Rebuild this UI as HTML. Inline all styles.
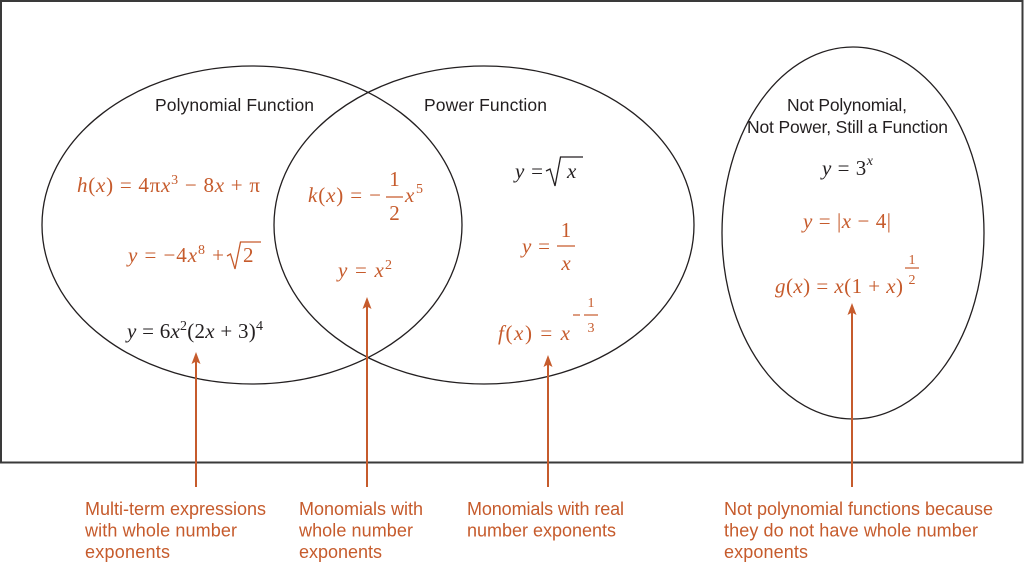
<!DOCTYPE html>
<html><head><meta charset="utf-8">
<style>
body{margin:0;background:#fff}
svg{display:block}
.m{font-family:"Liberation Serif",serif;font-size:21px}
.i{font-style:italic}
.o{fill:#c65b2c}
.k{fill:#231f20}
.h{font-family:"Liberation Sans",sans-serif;font-size:17.5px;fill:#231f20}
.l{font-family:"Liberation Sans",sans-serif;font-size:18px;fill:#c65b2c}
.s{font-size:14px}
</style></head>
<body>
<svg width="1024" height="586" viewBox="0 0 1024 586" xmlns="http://www.w3.org/2000/svg">
<rect x="0" y="0" width="1024" height="586" fill="#fff"/>
<rect x="1" y="1" width="1021.5" height="461.5" fill="none" stroke="#3a3a3a" stroke-width="2"/>

<!-- ellipses -->
<g fill="none" stroke="#231f20" stroke-width="1.3">
<ellipse cx="252" cy="225" rx="210" ry="159"/>
<ellipse cx="484" cy="225" rx="210" ry="159"/>
<ellipse cx="853" cy="233" rx="131" ry="186"/>
</g>

<!-- headers -->
<text class="h" x="155" y="111" textLength="159" lengthAdjust="spacing">Polynomial Function</text>
<text class="h" x="424" y="111" textLength="123" lengthAdjust="spacing">Power Function</text>
<text class="h" x="787" y="111" textLength="120" lengthAdjust="spacing">Not Polynomial,</text>
<text class="h" x="747" y="133" textLength="201" lengthAdjust="spacing">Not Power, Still a Function</text>

<!-- Formula 1 -->
<text class="m o" x="77" y="192" textLength="183" lengthAdjust="spacing"><tspan class="i">h</tspan>(<tspan class="i">x</tspan>) = 4π<tspan class="i">x</tspan><tspan class="s" dy="-8">3</tspan><tspan dy="8"> − 8</tspan><tspan class="i">x</tspan> + π</text>

<!-- Formula 2 -->
<text class="m o" x="128" y="262" textLength="96" lengthAdjust="spacing"><tspan class="i">y</tspan> = −4<tspan class="i">x</tspan><tspan class="s" dy="-8">8</tspan><tspan dy="8"> +</tspan></text>
<path d="M227,256 L230.5,254 L235,269 L240.5,242 L261,242" fill="none" stroke="#c65b2c" stroke-width="1.3"/>
<text class="m o" x="243" y="262">2</text>

<!-- Formula 3 -->
<text class="m k" x="127" y="338" textLength="136" lengthAdjust="spacing"><tspan class="i">y</tspan> = 6<tspan class="i">x</tspan><tspan class="s" dy="-8">2</tspan><tspan dy="8">(2</tspan><tspan class="i">x</tspan> + 3)<tspan class="s" dy="-8">4</tspan></text>

<!-- Formula 4 -->
<text class="m o" x="308" y="202" textLength="73" lengthAdjust="spacing"><tspan class="i">k</tspan>(<tspan class="i">x</tspan>) = −</text>
<line x1="386" y1="197" x2="403" y2="197" stroke="#c65b2c" stroke-width="1.2"/>
<text class="m o" x="394.5" y="186" text-anchor="middle" font-size="19">1</text>
<text class="m o" x="394.5" y="220" text-anchor="middle" font-size="19">2</text>
<text class="m o i" x="405" y="202">x</text>
<text class="m o s" x="416" y="193">5</text>

<!-- Formula 5 -->
<text class="m o" x="338" y="277" textLength="54" lengthAdjust="spacing"><tspan class="i">y</tspan> = <tspan class="i">x</tspan><tspan class="s" dy="-8">2</tspan></text>

<!-- Formula 6 -->
<text class="m k" x="515" y="178" textLength="28" lengthAdjust="spacing"><tspan class="i">y</tspan> =</text>
<path d="M546,171 L550,169 L555,186 L560.5,157 L583,157" fill="none" stroke="#231f20" stroke-width="1.3"/>
<text class="m k i" x="567" y="178">x</text>

<!-- Formula 7 -->
<text class="m o" x="522" y="253" textLength="28" lengthAdjust="spacing"><tspan class="i">y</tspan> =</text>
<line x1="557" y1="246" x2="575" y2="246" stroke="#c65b2c" stroke-width="1.2"/>
<text class="m o" x="566" y="237" text-anchor="middle" font-size="19">1</text>
<text class="m o i" x="566" y="270" text-anchor="middle">x</text>

<!-- Formula 8 -->
<text class="m o" x="498" y="340" textLength="72" lengthAdjust="spacing"><tspan class="i">f</tspan>(<tspan class="i">x</tspan>) = <tspan class="i">x</tspan></text>
<line x1="573" y1="315" x2="580" y2="315" stroke="#c65b2c" stroke-width="1.2"/>
<line x1="584" y1="315" x2="598" y2="315" stroke="#c65b2c" stroke-width="1.2"/>
<text class="m o s" x="591" y="307" text-anchor="middle">1</text>
<text class="m o s" x="591" y="332" text-anchor="middle">3</text>

<!-- Formula 9 -->
<text class="m k" x="822" y="175" textLength="51" lengthAdjust="spacing"><tspan class="i">y</tspan> = 3<tspan class="s i" dy="-10">x</tspan></text>

<!-- Formula 10 -->
<text class="m o" x="803" y="228" textLength="88" lengthAdjust="spacing"><tspan class="i">y</tspan> = |<tspan class="i">x</tspan> − 4|</text>

<!-- Formula 11 -->
<text class="m o" x="775" y="293" textLength="128" lengthAdjust="spacing"><tspan class="i">g</tspan>(<tspan class="i">x</tspan>) = <tspan class="i">x</tspan>(1 + <tspan class="i">x</tspan>)</text>
<line x1="905" y1="268" x2="919" y2="268" stroke="#c65b2c" stroke-width="1.2"/>
<text class="m o s" x="912" y="264" text-anchor="middle">1</text>
<text class="m o s" x="912" y="284" text-anchor="middle">2</text>

<!-- arrows -->
<g stroke="#c65b2c" stroke-width="2">
<line x1="196" y1="360" x2="196" y2="487"/>
<line x1="367" y1="305" x2="367" y2="487"/>
<line x1="548" y1="363" x2="548" y2="487"/>
<line x1="852" y1="311" x2="852" y2="487"/>
</g>
<g fill="#c65b2c">
<polygon points="196,352 200.5,364 196,361.5 191.5,364"/>
<polygon points="367,297 371.5,309 367,306.5 362.5,309"/>
<polygon points="548,355 552.5,367 548,364.5 543.5,367"/>
<polygon points="852,303 856.5,315 852,312.5 847.5,315"/>
</g>

<!-- labels -->
<text class="l" x="85" y="515" textLength="181" lengthAdjust="spacing">Multi-term expressions</text>
<text class="l" x="85" y="536.5" textLength="152" lengthAdjust="spacing">with whole number</text>
<text class="l" x="85" y="558" textLength="85" lengthAdjust="spacing">exponents</text>

<text class="l" x="299" y="515" textLength="124" lengthAdjust="spacing">Monomials with</text>
<text class="l" x="299" y="536.5" textLength="114" lengthAdjust="spacing">whole number</text>
<text class="l" x="299" y="558" textLength="83" lengthAdjust="spacing">exponents</text>

<text class="l" x="467" y="515" textLength="157" lengthAdjust="spacing">Monomials with real</text>
<text class="l" x="467" y="536.5" textLength="149" lengthAdjust="spacing">number exponents</text>

<text class="l" x="724" y="515" textLength="269" lengthAdjust="spacing">Not polynomial functions because</text>
<text class="l" x="724" y="536.5" textLength="254" lengthAdjust="spacing">they do not have whole number</text>
<text class="l" x="724" y="558" textLength="84" lengthAdjust="spacing">exponents</text>
</svg>
</body></html>
